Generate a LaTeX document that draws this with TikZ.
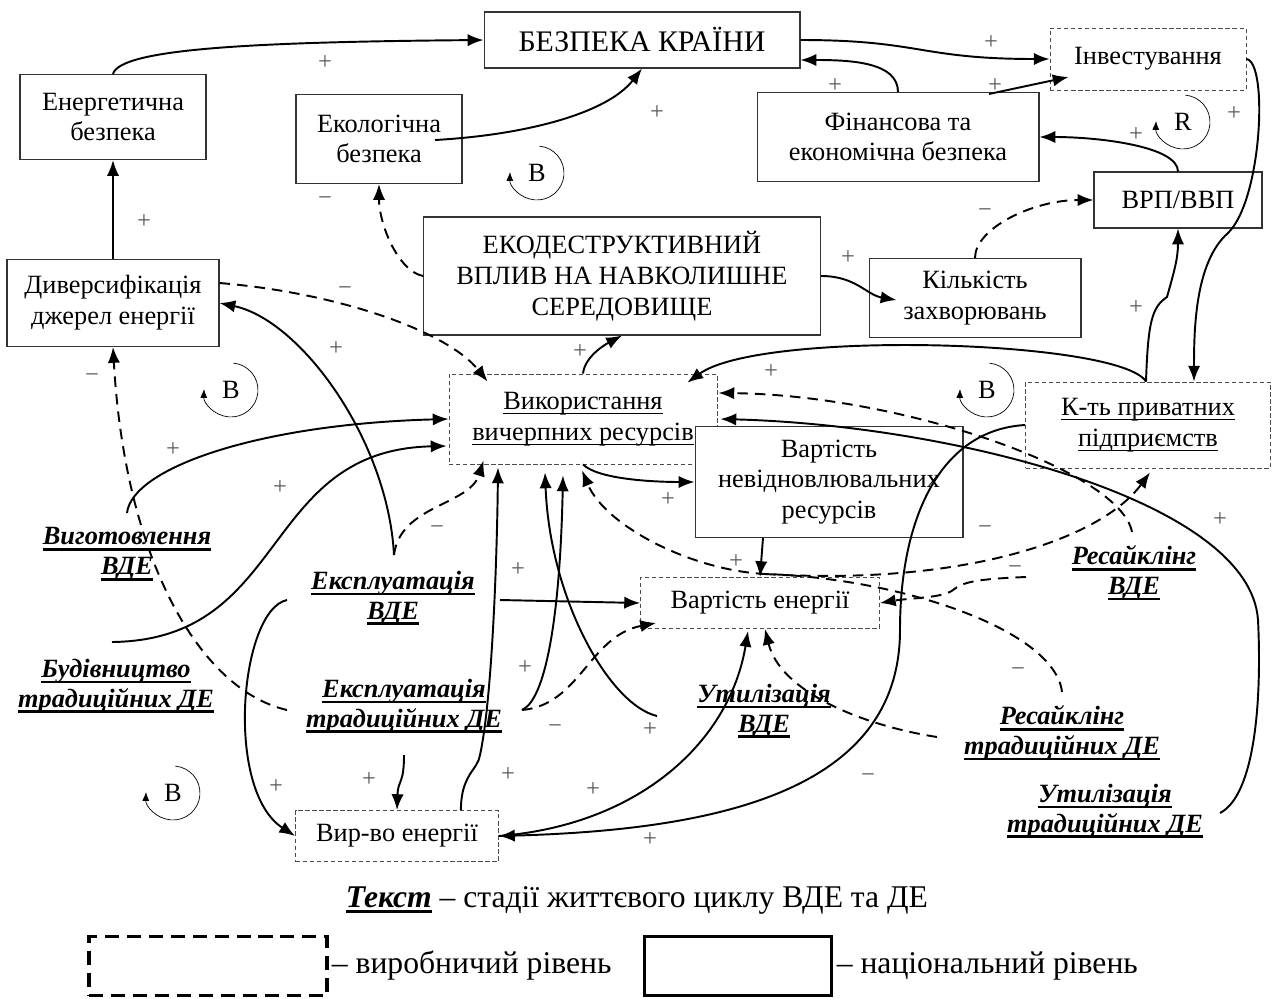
\documentclass[tikz,border=0pt]{standalone}
\usepackage{fontspec}
\setmainfont{Liberation Serif}
\usetikzlibrary{arrows.meta, positioning}

\newcommand{\boxfont}{\fontsize{15}{17.5}\selectfont}
\newcommand{\stagefont}{\fontsize{15}{17}\selectfont\bfseries\itshape}
\newcommand{\legfont}{\fontsize{18}{21}\selectfont}
\newcommand{\stul}[1]{\setbox0=\hbox{#1}\rlap{\rule[-3.4pt]{\wd0}{1.5pt}}\box0\relax}
\newcommand{\thul}[1]{\setbox0=\hbox{#1}\rlap{\rule[-2.6pt]{\wd0}{0.7pt}}\box0\relax}

\begin{document}
\begin{tikzpicture}[
    x=0.02cm, y=-0.02cm,
    natbox/.style = {rectangle, draw=black!80, line width=0.6pt, fill=white, align=center, inner sep=2pt, font=\boxfont},
    prodbox/.style = {rectangle, draw=black!70, line width=0.5pt, dash pattern=on 2.5pt off 1.5pt, fill=white, align=center, inner sep=2pt, font=\boxfont},
    stage/.style = {align=center, inner sep=1pt, font=\stagefont},
    arrow/.style = {line width=1.1pt, -{Latex[length=9pt,width=7pt]}},
    dasharrow/.style = {arrow, dash pattern=on 6pt off 4pt},
    sign/.style = {font=\fontsize{14}{14}\selectfont, text=black!65, inner sep=0pt},
    loopmark/.style = {font=\fontsize{15}{15}\selectfont, inner sep=0pt},
    looparc/.style = {line width=0.4pt, -{Latex[length=5pt,width=4pt]}}
]
    \useasboundingbox (0,0) rectangle (1272,998);

    % Nodes
    \node[natbox, minimum width=6.32cm, minimum height=1.12cm, font=\fontsize{17}{19}\selectfont] (bezpeka) at (642,40) {БЕЗПЕКА КРАЇНИ};
    \node[prodbox, minimum width=3.92cm, minimum height=1.24cm] (invest) at (1148,59) {Інвестування};
    \node[natbox, minimum width=3.72cm, minimum height=1.70cm] (energ) at (113,117) {Енергетична\\безпека};
    \node[natbox, minimum width=3.32cm, minimum height=1.78cm] (ekol) at (379,139) {Екологічна\\безпека};
    \node[natbox, minimum width=5.64cm, minimum height=1.78cm] (fin) at (898,137) {Фінансова та\\економічна безпека};
    \node[natbox, minimum width=3.36cm, minimum height=1.12cm] (vrp) at (1178,200) {ВРП/ВВП};
    \node[natbox, minimum width=7.94cm, minimum height=2.36cm] (ekodestr) at (622,276) {ЕКОДЕСТРУКТИВНИЙ\\ВПЛИВ НА НАВКОЛИШНЕ\\СЕРЕДОВИЩЕ};
    \node[natbox, minimum width=4.24cm, minimum height=1.58cm] (kilk) at (975,298) {Кількість\\захворювань};
    \node[natbox, minimum width=4.24cm, minimum height=1.74cm] (dyvers) at (113,303) {Диверсифікація\\джерел енергії};
    \node[prodbox, minimum width=5.36cm, minimum height=1.80cm] (vykor) at (583,419) {\thul{Використання}\\\thul{вичерпних ресурсів}};
    \node[prodbox, minimum width=4.90cm, minimum height=1.72cm] (ktpp) at (1148,425) {\thul{К-ть приватних}\\\thul{підприємств}};
    \node[natbox, minimum width=5.36cm, minimum height=2.22cm] (vartnev) at (829,482) {Вартість\\невідновлювальних\\ресурсів};
    \node[prodbox, minimum width=4.78cm, minimum height=1.02cm] (vartener) at (760,603) {Вартість енергії};
    \node[prodbox, minimum width=4.06cm, minimum height=1.02cm] (vyrvo) at (397,836) {Вир-во енергії};

    % Life cycle stages
    \node[stage] (vygot) at (127,554) {\stul{Виготовлення}\\\stul{ВДЕ}};
    \node[stage] (budiv) at (116,686) {\stul{Будівництво}\\\stul{традиційних ДЕ}};
    \node[stage] (expvde) at (393,598) {\stul{Експлуатація}\\\stul{ВДЕ}};
    \node[stage] (exptrad) at (404,706) {\stul{Експлуатація}\\\stul{традиційних ДЕ}};
    \node[stage] (utilvde) at (764,711) {\stul{Утилізація}\\\stul{ВДЕ}};
    \node[stage] (recvde) at (1134,573) {\stul{Ресайклінг}\\\stul{ВДЕ}};
    \node[stage] (rectrad) at (1062,733) {\stul{Ресайклінг}\\\stul{традиційних ДЕ}};
    \node[stage] (utiltrad) at (1105,811) {\stul{Утилізація}\\\stul{традиційних ДЕ}};

    % Loops
    \foreach \lx/\ly/\lt [count=\i] in {537/173/B, 231/390/B, 987/390/B, 173/793/B, 1183/122/R} {
        \node[loopmark] (loop\i) at (\lx,\ly) {\lt};
        \draw[looparc] ([shift={(85:0.54cm)}]loop\i.center) arc[start angle=85, end angle=-182, radius=0.54cm];
    }

    % Arrows
    \draw[arrow] (energ.north) .. controls +(7,-25) and +(-234,2) .. (bezpeka.west);
    \draw[arrow] ([shift={(56,1)}]ekol.center) .. controls +(90,-5) and +(-35,45) .. (bezpeka.south);
    \draw[arrow] (bezpeka.east) .. controls +(120,0) and +(-130,0) .. (invest.west);
    \draw[arrow] (fin.north) .. controls +(0,-30) and +(50,0) .. ([shift={(0,20)}]bezpeka.east);
    \draw[arrow] ([shift={(91,2)}]fin.north) -- ([shift={(19,18)}]invest.west);
    \draw[arrow] (vrp.north) .. controls +(0,-25) and +(60,0) .. (fin.east);
    \draw[arrow] (invest.east) .. controls +(22,3) and +(34,-33) .. (1228,233) .. controls +(-33,29) and +(0,-52) .. ([shift={(46,0)}]ktpp.north);
    \draw[arrow] ([shift={(-2,0)}]ktpp.north) .. controls +(2,-60) and +(-15,10) .. (1167,297) .. controls +(7,-25) and +(0,30) .. (vrp.south);
    \draw[arrow] ([shift={(-2,0)}]ktpp.north) .. controls +(-26,-42) and +(73,-53) .. ([shift={(-30,9)}]vykor.north east);
    \draw[dasharrow] (kilk.north) .. controls +(0,-30) and +(-60,0) .. (vrp.west);
    \draw[arrow] (ekodestr.east) .. controls +(35,0) and +(-30,-5) .. ([shift={(28,2)}]kilk.west);
    \draw[dasharrow] (ekodestr.west) .. controls +(-25,-5) and +(0,40) .. (ekol.south);
    \draw[arrow] (dyvers.north) -- (energ.south);
    \draw[arrow] (vykor.north) .. controls +(2,-18) and +(-15,8) .. (ekodestr.south);
    \draw[dasharrow] ([shift={(0,-20)}]dyvers.east) .. controls +(120,10) and +(-40,-50) .. ([shift={(39,8)}]vykor.north west);
    \draw[arrow] ([shift={(1,-43)}]expvde.center) .. controls +(-6,-115) and +(81,17) .. (dyvers.east);
    \draw[dasharrow] ([shift={(1,-43)}]expvde.center) .. controls +(6,-50) and +(-14,45) .. ([shift={(35,-4)}]vykor.south west);
    \draw[arrow] ([shift={(0,-41)}]vygot.center) .. controls +(5,-45) and +(-190,5) .. (vykor.west);
    \draw[arrow] ([shift={(-4,-44)}]budiv.center) .. controls +(178,-2) and +(-187,4) .. ([shift={(-2,27)}]vykor.west);
    \draw[dasharrow] ([shift={(-117,4)}]exptrad.center) .. controls +(-87,-20) and +(12,213) .. (dyvers.south);
    \draw[arrow] ([shift={(-106,2)}]expvde.center) .. controls +(-47,10) and +(-71,-46) .. (vyrvo.west);
    \draw[arrow] ([shift={(107,2)}]expvde.center) -- (vartener.west);
    \draw[arrow] ([shift={(0,49)}]exptrad.center) .. controls +(0,30) and +(1,-31) .. (vyrvo.north);
    \draw[arrow] ([shift={(-38,0)}]vyrvo.north east) .. controls +(0,-36) and +(-2,15) .. (480,755) .. controls +(12,-55) and +(-1,93) .. ([shift={(-85,3)}]vykor.south);
    \draw[arrow] ([shift={(118,4)}]exptrad.center) .. controls +(23,-10) and +(-3,145) .. ([shift={(-20,11)}]vykor.south);
    \draw[arrow] ([shift={(-107,5)}]utilvde.center) .. controls +(-47,-11) and +(5,128) .. ([shift={(-38,8)}]vykor.south);
    \draw[dasharrow] ([shift={(118,4)}]exptrad.center) .. controls +(58,-5) and +(-67,13) .. ([shift={(16,-6)}]vartener.south west);
    \draw[arrow] (vykor.south) .. controls +(15,15) and +(-40,0) .. (vartnev.west);
    \draw[arrow] ([shift={(-66,0)}]vartnev.south) -- (vartener.north);
    \draw[dasharrow] ([shift={(-108,4)}]recvde.center) .. controls +(-50,2) and +(10,-8) .. (953,590) .. controls +(-10,8) and +(30,-5) .. (vartener.east);
    \draw[dasharrow] ([shift={(-2,-41)}]recvde.center) .. controls +(-12,-62) and +(182,2) .. ([shift={(1,-26)}]vykor.east);
    \draw[arrow] ([shift={(115,2)}]utiltrad.center) .. controls +(35,-18) and +(4,80) .. (1258,620) .. controls +(-8,-120) and +(230,6) .. ([shift={(3,0)}]vykor.east);
    \draw[arrow] (ktpp.west) .. controls +(-86,5) and +(0,-110) .. (900,630) .. controls +(0,160) and +(221,-6) .. (vyrvo.east);
    \draw[arrow] (vyrvo.east) .. controls +(141,-11) and +(-18,110) .. ([shift={(-12,2)}]vartener.south);
    \coordinate (fork) at (765,574);
    \draw[dasharrow] ([shift={(0,-41)}]rectrad.center) .. controls +(-7,-62) and +(135,4) .. (fork) .. controls +(-75,-4) and +(23,55) .. ([shift={(-1,6)}]vykor.south);
    \draw[dasharrow] (fork) .. controls +(195,12) and +(-50,68) .. ([shift={(2,4)}]ktpp.south);
    \draw[dasharrow] ([shift={(-125,4)}]rectrad.center) .. controls +(-77,-12) and +(15,62) .. ([shift={(5,0)}]vartener.south);

    % Polarities
    \foreach \sx/\sy/\st [count=\i] in {325/63/+, 657/113/+, 991/43/+, 835/86/+, 995/86/+, 1136/135/+, 1234/114/+, 325/201/−, 144/222/+, 848/258/+, 985/213/−, 345/291/−, 336/349/+, 580/352/+, 92/378/−, 771/372/+, 173/450/+, 280/488/+, 1136/308/+, 437/530/−, 518/570/+, 668/500/+, 736/562/+, 985/530/−, 1015/570/−, 1220/520/+, 525/668/+, 555/729/−, 650/730/+, 1018/672/−, 868/778/−, 276/787/+, 369/780/+, 508/775/+, 593/790/+, 650/840/+}
        \node[sign] (sg\i) at (\sx,\sy) {\st};

    % Legend
    \node[font=\legfont, inner sep=0pt] (legstage) at (637,900) {\stul{\bfseries\itshape Текст} – стадії життєвого циклу ВДЕ та ДЕ};
    \node[draw, line width=1.8pt, dash pattern=on 8pt off 4.5pt, minimum width=4.76cm, minimum height=1.18cm] (legprod) at (208,966) {};
    \node[font=\legfont, inner sep=0pt, right=0.06cm of legprod] (legprodtxt) {– виробничий рівень};
    \node[draw, line width=1.7pt, minimum width=3.76cm, minimum height=1.18cm] (legnat) at (738,966) {};
    \node[font=\legfont, inner sep=0pt, right=0.06cm of legnat] (legnattxt) {– національний рівень};
\end{tikzpicture}
\end{document}
